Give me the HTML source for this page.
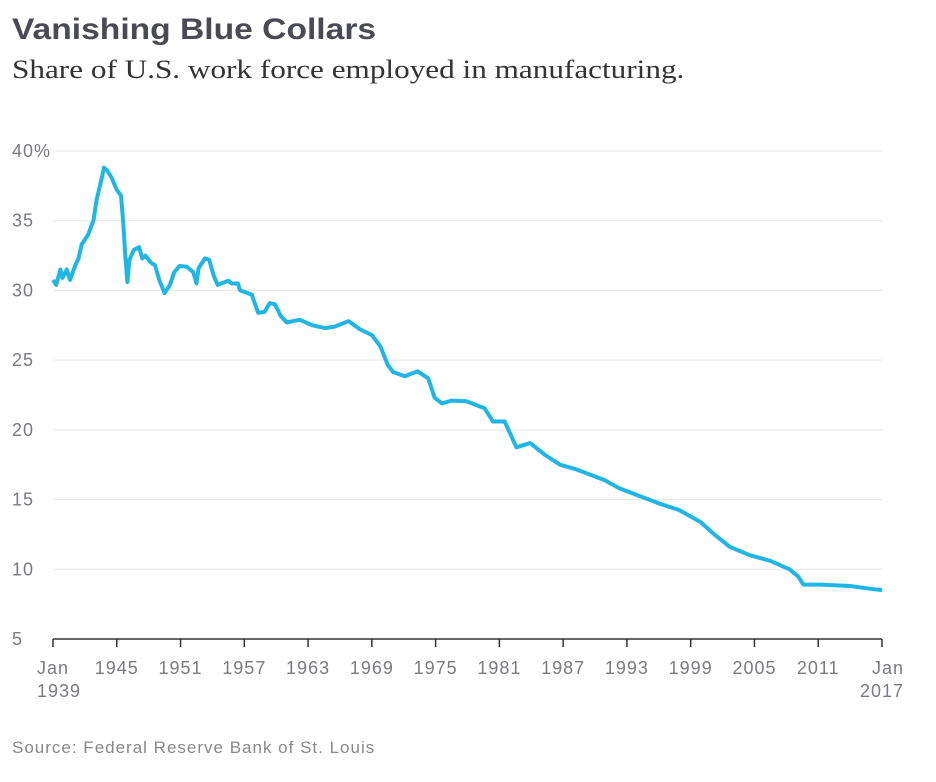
<!DOCTYPE html>
<html><head><meta charset="utf-8">
<style>
body{margin:0;background:#fff;width:936px;height:782px;overflow:hidden;font-family:"Liberation Sans",sans-serif;}
#title{position:absolute;left:12px;top:13px;font-size:30px;font-weight:bold;color:#4a4a55;transform:scaleX(1.12);transform-origin:left top;white-space:nowrap;}
#sub{position:absolute;left:12px;top:55px;font-family:"Liberation Serif",serif;font-size:26px;color:#333;transform:scaleX(1.2);transform-origin:left top;white-space:nowrap;}
#src{position:absolute;left:12px;top:738px;font-size:17px;color:#888;letter-spacing:1px;}
svg{position:absolute;left:0;top:0;}
</style></head><body>
<div id="title">Vanishing Blue Collars</div>
<div id="sub">Share of U.S. work force employed in manufacturing.</div>
<svg id="chart" width="936" height="782"></svg>
<div id="src">Source: Federal Reserve Bank of St. Louis</div>
<script>
const years=[1939.0,1939.3,1939.7,1939.9,1940.3,1940.6,1941.1,1941.4,1941.7,1942.3,1942.8,1943.1,1943.6,1943.8,1944.1,1944.5,1945.0,1945.4,1945.6,1945.8,1946.0,1946.2,1946.6,1947.1,1947.4,1947.7,1948.2,1948.6,1949.0,1949.5,1950.0,1950.4,1950.9,1951.6,1952.2,1952.5,1952.7,1953.3,1953.7,1954.1,1954.5,1955.5,1955.8,1956.4,1956.6,1957.7,1958.3,1958.9,1959.4,1959.9,1960.4,1961.0,1962.2,1963.4,1964.6,1965.5,1966.8,1967.9,1969.0,1969.8,1970.5,1971.0,1972.1,1973.3,1974.3,1974.9,1975.6,1976.5,1977.9,1979.6,1980.4,1981.5,1982.6,1983.9,1985.3,1986.7,1988.1,1989.5,1990.9,1992.3,1994.2,1996.1,1997.9,1999.9,2001.3,2002.7,2004.6,2006.5,2008.3,2009.1,2009.6,2011.2,2014.0,2015.9,2017.0];
const shares=[30.75,30.4,31.5,30.9,31.5,30.75,31.8,32.3,33.3,34.0,35.0,36.5,38.1,38.8,38.6,38.1,37.2,36.8,35.0,32.5,30.6,32.2,32.9,33.1,32.3,32.5,32.0,31.8,30.75,29.8,30.4,31.3,31.75,31.7,31.3,30.5,31.6,32.3,32.2,31.1,30.4,30.7,30.5,30.5,30.0,29.7,28.4,28.45,29.1,29.0,28.2,27.7,27.9,27.5,27.3,27.4,27.8,27.2,26.8,26.0,24.65,24.15,23.85,24.2,23.7,22.3,21.9,22.1,22.05,21.55,20.6,20.6,18.75,19.05,18.2,17.5,17.2,16.8,16.4,15.8,15.25,14.7,14.25,13.4,12.45,11.6,11.0,10.6,10.0,9.5,8.9,8.9,8.8,8.6,8.5];
const yTicks=[5,10,15,20,25,30,35,40];
const yTickLabels=["5","10","15","20","25","30","35","40%"];
const xTicks=[1939,1945,1951,1957,1963,1969,1975,1981,1987,1993,1999,2005,2011,2017];
const xTickLabels=["Jan|1939","1945","1951","1957","1963","1969","1975","1981","1987","1993","1999","2005","2011","Jan|2017"];
const NS="http://www.w3.org/2000/svg";
const svg=document.getElementById('chart');
const X=v=>53+(v-1939)*(882-53)/(2017-1939);
const Y=v=>639-(v-5)*(639-151)/35;
function mk(t,a){const e=document.createElementNS(NS,t);for(const k in a)e.setAttribute(k,a[k]);svg.appendChild(e);return e;}
yTicks.forEach((t,i)=>{
 if(t>5){const g=mk('line',{x1:53,x2:882,y1:Y(t),y2:Y(t),stroke:'#e6e6e6','stroke-width':1});
 
 }
 const l=mk('text',{x:12,y:Y(t)+6,'font-size':18,fill:'#7a7a85','letter-spacing':'1','font-family':'Liberation Sans, sans-serif'});
 l.textContent=yTickLabels[i];
 
 
});
const ax=mk('line',{x1:53,x2:882,y1:639,y2:639,stroke:'#333','stroke-width':1.5});


xTicks.forEach((t,i)=>{
 const tk=mk('line',{x1:X(t),x2:X(t),y1:639,y2:647,stroke:'#333','stroke-width':1.5});
 
 
 const parts=xTickLabels[i].split('|');
 parts.forEach((p,j)=>{
  const anchor=i===0?'start':(i===xTicks.length-1?'end':'middle');
  const xx=i===0?X(t)-16:(i===xTicks.length-1?X(t)+22:X(t));
  const l=mk('text',{x:xx,y:674+j*23,'font-size':18,fill:'#7a7a85','letter-spacing':'1','text-anchor':anchor,'font-family':'Liberation Sans, sans-serif'});
  l.textContent=p;
  
  
 });
});
const d=years.map((y,i)=>(i?'L':'M')+X(y).toFixed(1)+','+Y(shares[i]).toFixed(1)).join('');
const p=mk('path',{d:d,fill:'none',stroke:'#1fb6e6','stroke-width':4,'stroke-linejoin':'round'});


</script>
</body></html>
